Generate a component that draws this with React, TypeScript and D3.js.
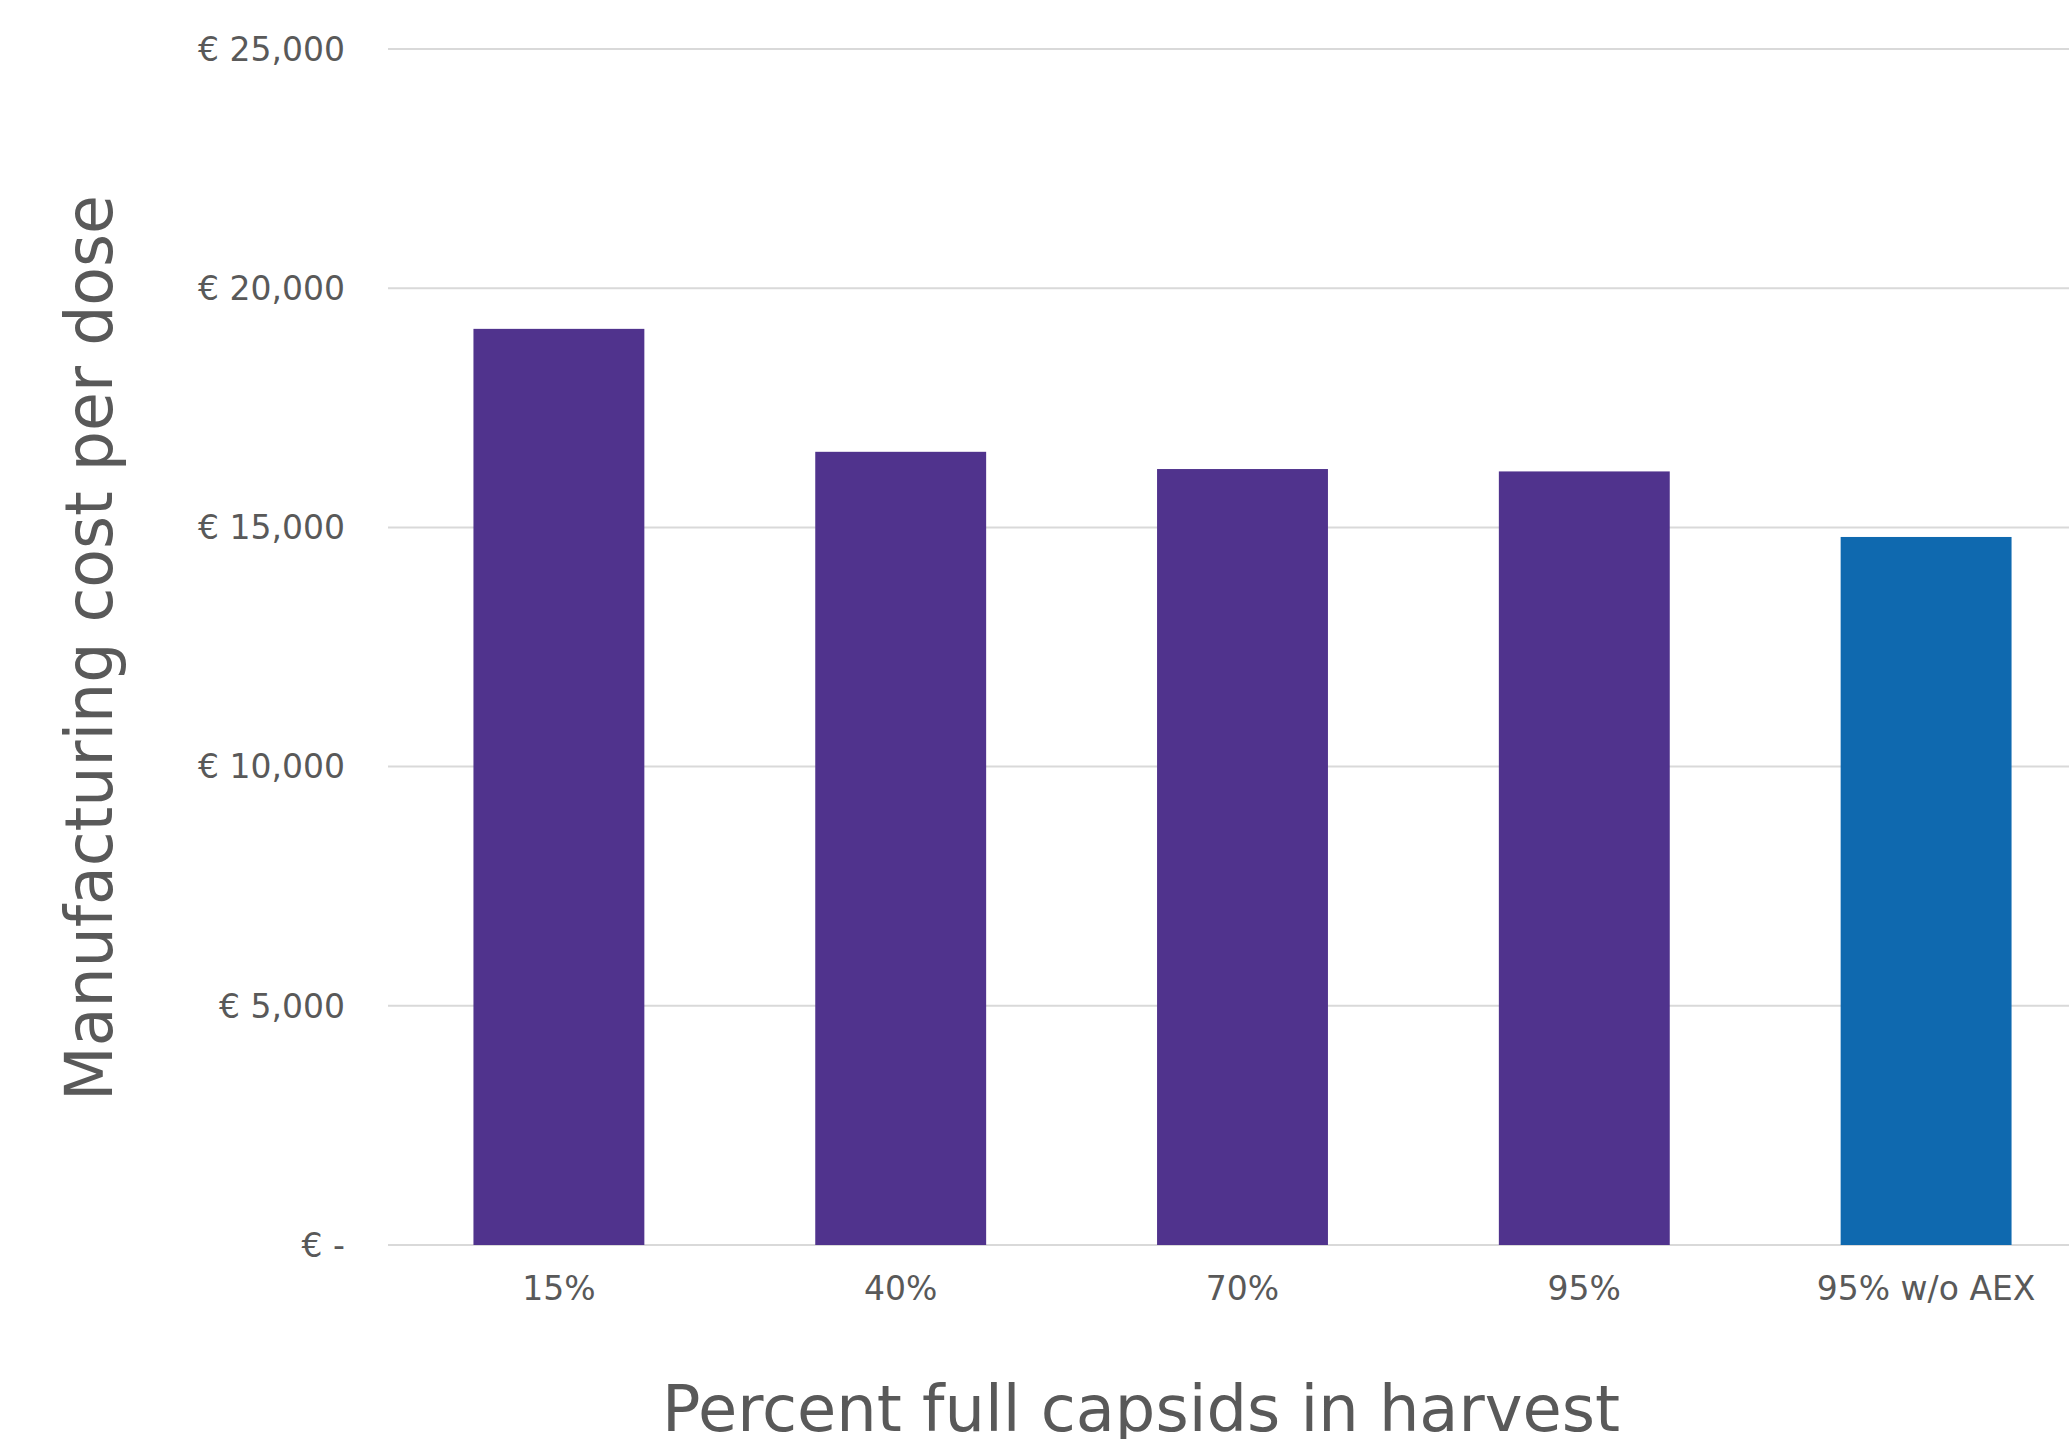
import React from "react";
import * as d3 from "d3";

const categories = ["15%", "40%", "70%", "95%", "95% w/o AEX"];
const costs = [19150, 16580, 16220, 16170, 14800];
const barColors = ["#50338D", "#50338D", "#50338D", "#50338D", "#0F69AF"];
const yTicks = [0, 5000, 10000, 15000, 20000, 25000];
const yTickLabels = ["€ -", "€ 5,000", "€ 10,000", "€ 15,000", "€ 20,000", "€ 25,000"];
const xTitle = "Percent full capsids in harvest";
const yTitle = "Manufacturing cost per dose";

const W = 2069;
const H = 1439;

export default function App() {
  const x = d3
    .scaleBand<string>()
    .domain(categories)
    .range([388, 2097])
    .paddingInner(0.5)
    .paddingOuter(0.25);
  const y = d3.scaleLinear().domain([0, 25000]).range([1245, 49]);
  const font = "'DejaVu Sans', Verdana, sans-serif";
  const textColor = "#595959";

  return (
    <svg
      width={W}
      height={H}
      style={{ position: "absolute", left: 0, top: 0, background: "#fff" }}
    >
      {yTicks.map((t, i) => (
        <g key={t}>
          <line x1={388} x2={W} y1={y(t)} y2={y(t)} stroke="#D9D9D9" strokeWidth={2} />
          <text
            x={345}
            y={y(t)}
            dy="0.36em"
            textAnchor="end"
            fontFamily={font}
            fontSize={33}
            fill={textColor}
            textLength={undefined}
          >
            {yTickLabels[i]}
          </text>
        </g>
      ))}
      {categories.map((c, i) => (
        <rect
          key={c}
          x={x(c)}
          width={x.bandwidth()}
          y={y(costs[i])}
          height={y(0) - y(costs[i])}
          fill={barColors[i]}
        />
      ))}
      {categories.map((c) => (
        <text
          key={c}
          x={(x(c) as number) + x.bandwidth() / 2}
          y={1300}
          textAnchor="middle"
          fontFamily={font}
          fontSize={33}
          fill={textColor}
        >
          {c}
        </text>
      ))}
      <text
        x={1141}
        y={1431}
        textAnchor="middle"
        fontFamily="'DejaVu Sans Condensed', 'DejaVu Sans', sans-serif"
        fontSize={64}
        fill={textColor}
        textLength={958}
        lengthAdjust="spacingAndGlyphs"
      >
        {xTitle}
      </text>
      <text
        transform={`translate(112, 648) rotate(-90)`}
        textAnchor="middle"
        fontFamily="'DejaVu Sans Condensed', 'DejaVu Sans', sans-serif"
        fontSize={66}
        fill={textColor}
        textLength={906}
        lengthAdjust="spacingAndGlyphs"
      >
        {yTitle}
      </text>
    </svg>
  );
}
